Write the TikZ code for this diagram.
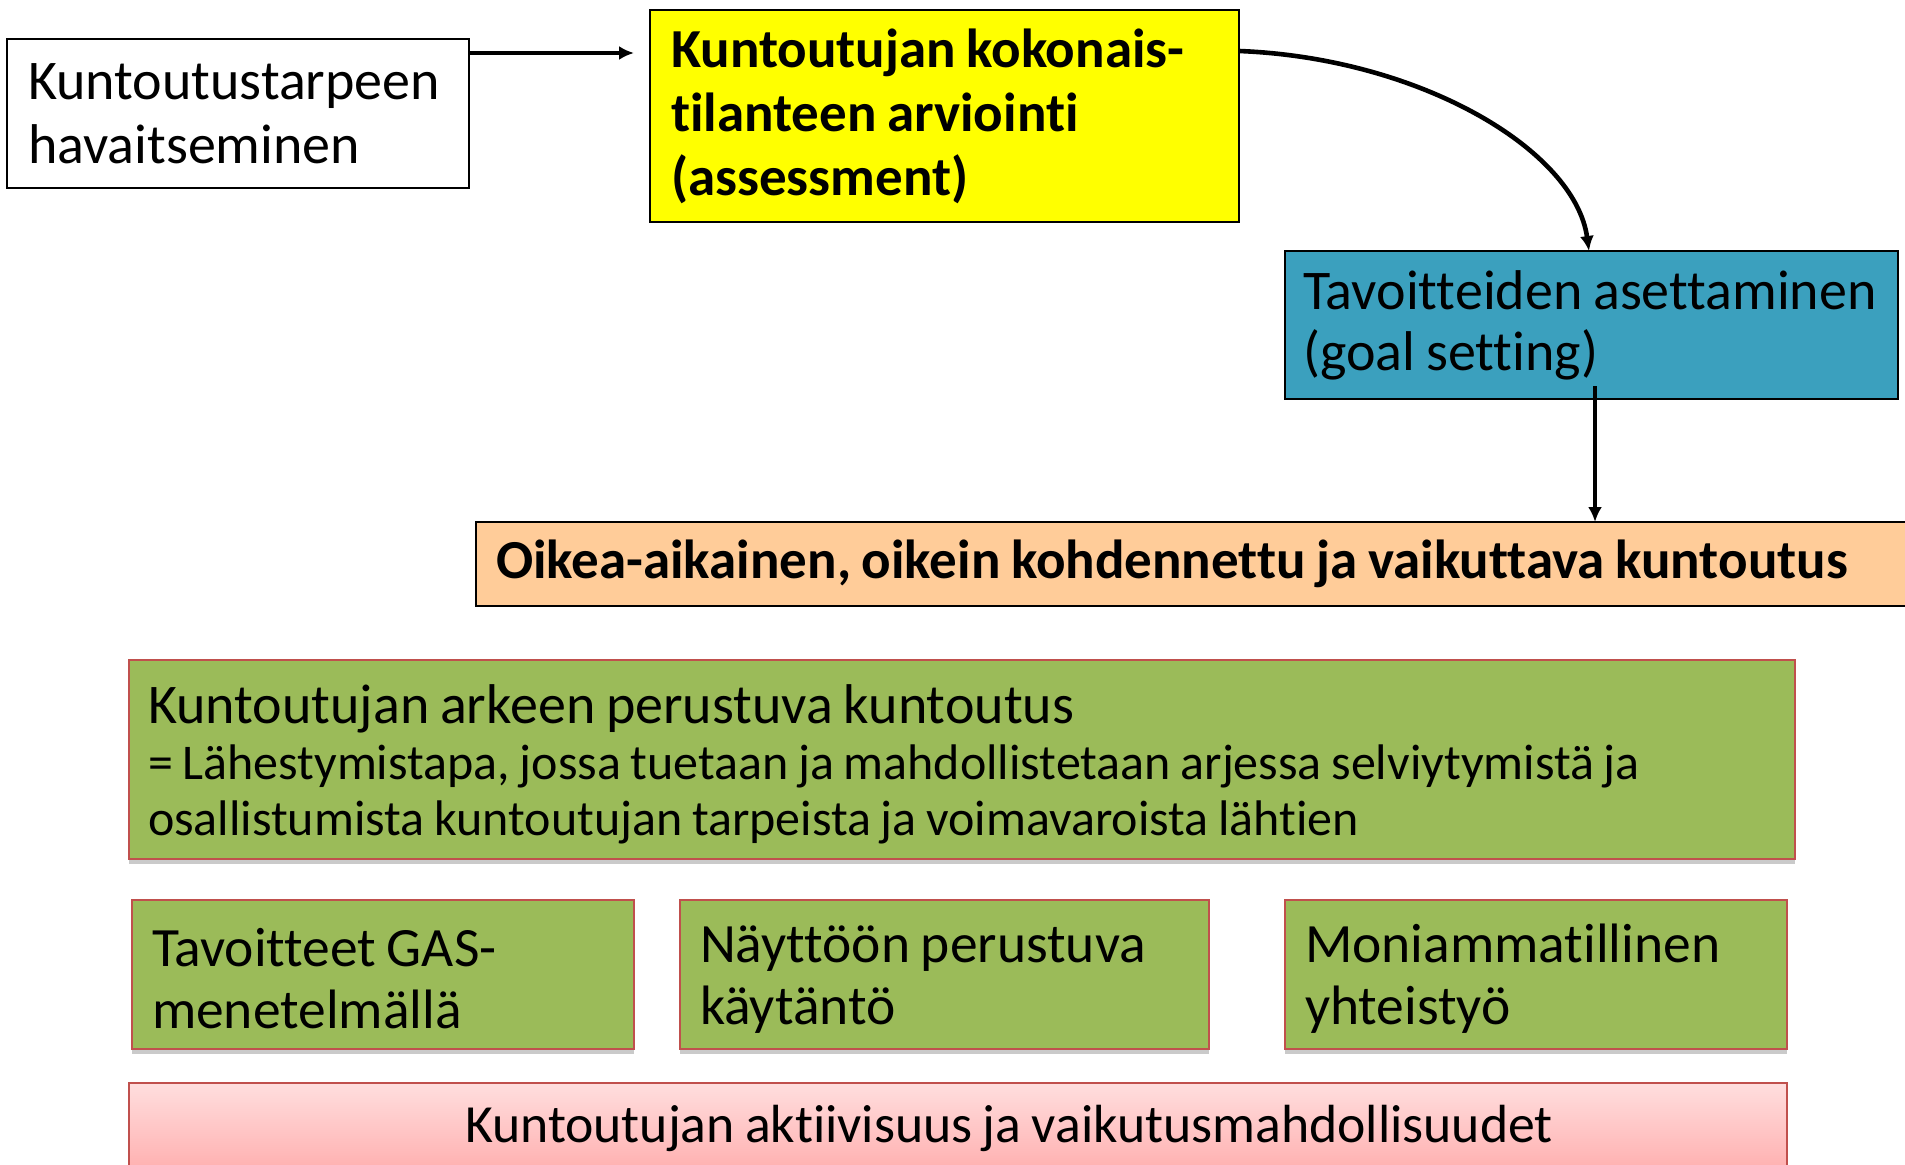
\documentclass[tikz,border=0pt]{standalone}
\usepackage{fontspec}
\setmainfont[WordSpace=0.85,Ligatures={NoCommon,NoRare}]{Carlito}
\usetikzlibrary{arrows.meta,shadows}
\definecolor{cyel}{RGB}{255,255,0}
\definecolor{cblue}{RGB}{59,160,190}
\definecolor{corange}{RGB}{255,204,153}
\definecolor{cgreen}{RGB}{155,187,89}
\definecolor{cred}{RGB}{192,80,77}
\definecolor{cpinktop}{RGB}{255,222,222}
\definecolor{cpinkbot}{RGB}{255,165,165}
\tikzset{
  box/.style={draw=black, line width=1.6pt, anchor=north west, inner ysep=0pt, inner xsep=21pt, align=flush left, outer sep=0pt},
  gbox/.style={box, draw=cred, line width=1.4pt, fill=cgreen, drop shadow={shadow xshift=0pt, shadow yshift=-5pt, opacity=.35, fill=black!60}},
  conn/.style={line width=4.6pt, -{Latex[length=15pt,width=14pt]}},
}
\begin{document}
\begin{tikzpicture}[x=1pt,y=-1pt]
\useasboundingbox (0,0) rectangle (1905,1164);
\clip (0,0) rectangle (1905,1164);
\node[box, minimum width=462pt, minimum height=149pt, text width=420pt, font=\fontsize{56}{64}\selectfont] (need) at (7,39) {Kuntoutustarpeen\\havaitseminen};
\node[box, fill=cyel, minimum width=589pt, minimum height=212pt, text width=547pt, font=\fontsize{55}{64}\selectfont\bfseries] (assess) at (650,10) {Kuntoutujan kokonais-\\tilanteen arviointi\\(assessment)};
\node[box, fill=cblue, minimum width=613pt, minimum height=148pt, text width=577pt, inner xsep=18pt, font=\fontsize{56}{61}\selectfont] (goal) at (1285,251) {Tavoitteiden asettaminen\\(goal setting)};
\node[box, fill=corange, minimum width=1440pt, minimum height=84pt, text width=1400pt, inner xsep=20pt, font=\fontsize{55}{60}\selectfont\bfseries] (right) at (476,522) {Oikea-aikainen, oikein kohdennettu ja vaikuttava kuntoutus};
\node[gbox, minimum width=1666pt, minimum height=199pt, text width=1628pt, inner xsep=19pt, font=\fontsize{50}{56}\selectfont] (everyday) at (129,660) {\rule{0pt}{49pt}{\fontsize{56}{61}\selectfont Kuntoutujan arkeen perustuva kuntoutus}\\= Lähestymistapa, jossa tuetaan ja mahdollistetaan arjessa selviytymistä ja\\osallistumista kuntoutujan tarpeista ja voimavaroista lähtien};
\node[gbox, minimum width=502pt, minimum height=149pt, text width=462pt, inner xsep=20pt, font=\fontsize{55.5}{62}\selectfont] (gas) at (132,900) {\rule{0pt}{47pt}Tavoitteet GAS-\\menetelmällä};
\node[gbox, minimum width=529pt, minimum height=149pt, text width=489pt, inner xsep=20pt, font=\fontsize{55.5}{62}\selectfont] (evid) at (680,900) {\rule{0pt}{47pt}Näyttöön perustuva\\käytäntö};
\node[gbox, minimum width=502pt, minimum height=149pt, text width=462pt, inner xsep=20pt, font=\fontsize{55.5}{62}\selectfont] (multi) at (1285,900) {\rule{0pt}{47pt}Moniammatillinen\\yhteistyö};
\node[box, draw=cred, line width=1.4pt, top color=cpinktop, bottom color=cpinkbot, minimum width=1658pt, minimum height=108pt, text width=1618pt, inner xsep=20pt, text height=40pt, text depth=30pt, font=\fontsize{53.7}{60}\selectfont] (active) at (129,1083) {\hspace*{316pt}Kuntoutujan aktiivisuus ja vaikutusmahdollisuudet};
\draw[conn] (need.east |- 0,53) -- (634,53) coordinate (a1);
\draw[conn] (assess.east |- 0,51) .. controls (1420,58) and (1575,150) .. (goal.north -| 1589,0);
\coordinate (gstart) at (1595,386);
\draw[conn] (gstart) -- (right.north -| 1595,0) ;
\end{tikzpicture}
\end{document}
